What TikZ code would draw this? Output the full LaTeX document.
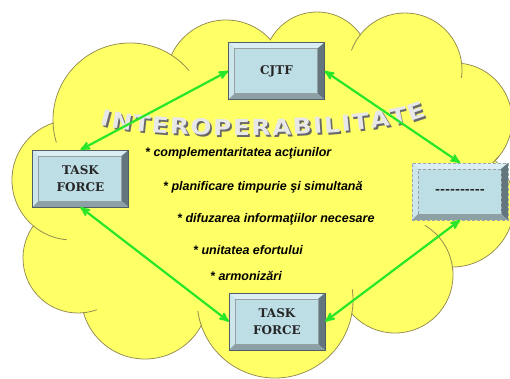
\documentclass[tikz,border=0pt]{standalone}
\usepackage{fontspec}
\setmainfont{Liberation Sans}
\newfontfamily\itemfont{Liberation Sans}
\newfontfamily\boxfont{DejaVu Serif}
\newfontfamily\wordart{DejaVu Sans}[FakeStretch=1.12]
\usetikzlibrary{arrows,calc,decorations.text}

\definecolor{cloudfill}{RGB}{255,255,102}
\definecolor{cloudline}{RGB}{150,140,80}
\definecolor{boxface}{RGB}{190,222,230}
\definecolor{boxline}{RGB}{80,95,100}
\definecolor{bevtop}{RGB}{218,238,243}
\definecolor{bevleft}{RGB}{204,230,236}
\definecolor{bevright}{RGB}{100,118,125}
\definecolor{bevbottom}{RGB}{140,160,166}
\definecolor{linkgreen}{RGB}{40,230,40}
\definecolor{wordback}{RGB}{105,105,105}
\definecolor{wordface}{RGB}{232,232,232}

% circles of the cloud: x/y/radius
\def\cloudparts{130/258/77, 226/298/60, 317/313/53, 405/308/57, 455/258/57,
  452/173/62, 395/103/58, 275/78/78, 145/83/64, 78/120/55, 72/198/60}

\begin{document}
\begin{tikzpicture}[x=1pt,y=1pt,>=stealth',
    tbox/.style={rectangle, draw=boxline, fill=boxface, minimum width=96pt,
      minimum height=57pt, inner sep=0pt, align=center, text=black!85,
      font=\boxfont\bfseries\fontsize{12}{17}\selectfont,
      path picture={
        \coordinate (p) at (path picture bounding box.south west);
        \coordinate (q) at (path picture bounding box.north east);
        \fill[bevtop] (p|-q) -- (q) -- ($(q)+(-7,-6)$) -- ($(p|-q)+(6,-6)$) -- cycle;
        \fill[bevleft] (p|-q) -- (p) -- ($(p)+(6,6)$) -- ($(p|-q)+(6,-6)$) -- cycle;
        \fill[bevright] (q) -- (q|-p) -- ($(q|-p)+(-7,6)$) -- ($(q)+(-7,-6)$) -- cycle;
        \fill[bevbottom] (p) -- (q|-p) -- ($(q|-p)+(-7,6)$) -- ($(p)+(6,6)$) -- cycle;
        \draw[boxline!60, line width=0.4pt] ($(p)+(6,6)$) rectangle ($(q)+(-7,-6)$);
      }},
    dotbox/.style={densely dashed, draw=boxline!55},
    item/.style={anchor=west, inner sep=0pt,
      font=\itemfont\bfseries\itshape\fontsize{12.5}{15}\selectfont},
    link/.style={<->, draw=linkgreen, line width=2.2pt},
    wordpath/.style={decorate, decoration={text along path, text align=fit to path,
      text={|\wordart\bfseries\fontsize{22}{22}\selectfont\color{#1}|INTEROPERABILITATE}}}]
  \useasboundingbox[fill=white] (0,0) rectangle (510,378);

  % cloud: outlines first, then the inside is painted over
  \foreach \cx/\cy/\r in \cloudparts
    \draw[cloudline, line width=0.8pt, fill=cloudfill] (\cx,\cy) circle[radius=\r];
  \fill[cloudfill] (130,258) -- (226,298) -- (317,313) -- (405,308) -- (455,258)
    -- (452,173) -- (395,103) -- (275,78) -- (145,83) -- (78,120) -- (72,198) -- cycle;
  \foreach \cx/\cy/\r in \cloudparts
    \fill[cloudfill] (\cx,\cy) circle[radius=\r-0.8];
  % short inner arcs
  \foreach \cx/\cy/\r/\a/\b in {130/258/77/57/40, 130/258/77/182/197,
      405/308/57/141/160, 405/308/57/7/-8, 455/258/57/-40/-55, 395/103/58/5/59,
      275/78/78/-10/8, 275/78/78/199/188, 78/120/55/-84/-70, 72/198/60/230/265}
    \draw[cloudline, line width=0.8pt] (\cx,\cy) ++(\a:\r) arc[start angle=\a, end angle=\b, radius=\r];

  % word art, shadow then face
  \path[wordpath=wordback, shift={(1.8,-2)}]
    (100,254) .. controls (150,237) and (370,237) .. (426,262);
  \path[wordpath=wordface]
    (100,254) .. controls (150,237) and (370,237) .. (426,262);

  \node[tbox] (cjtf) at (276.5,307) {CJTF};
  \node[tbox] (tfleft) at (80.5,199.5) {TASK\\FORCE};
  \node[tbox, dotbox] (other) at (460,186.5) {-{}-{}-{}-{}-{}-{}-{}-{}-{}-};
  \node[tbox] (tfbottom) at (277,56.5) {TASK\\FORCE};

  \draw[link] (cjtf.west) -- (tfleft.north);
  \draw[link] (cjtf.east) -- (other.north);
  \draw[link] (tfleft.south) -- (tfbottom.west);
  \draw[link] (other.south) -- (tfbottom.east);

  \node[item] (it1) at (145,225) {* complementaritatea acţiunilor};
  \node[item] (it2) at (163,191) {* planificare timpurie şi simultană};
  \node[item] (it3) at (177,159) {* difuzarea informaţiilor necesare};
  \node[item] (it4) at (193,128) {* unitatea efortului};
  \node[item] (it5) at (210,102) {* armonizări};
\end{tikzpicture}
\end{document}
